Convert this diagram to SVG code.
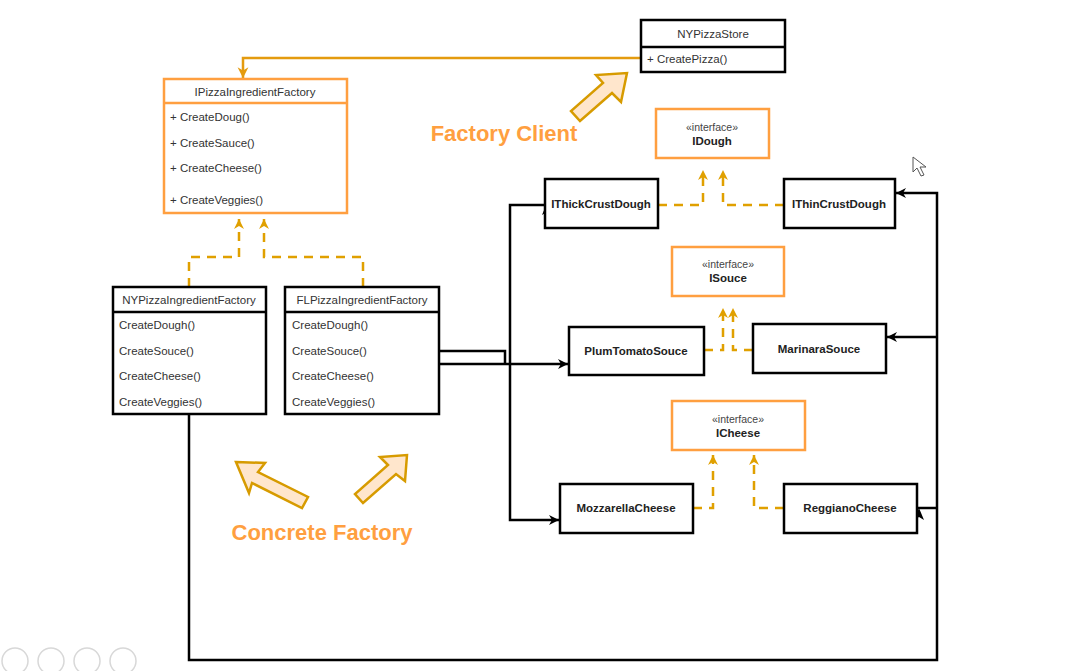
<svg xmlns="http://www.w3.org/2000/svg" width="1067" height="671" viewBox="0 0 1067 671">
<style>
.box{fill:#fff;stroke:#000;stroke-width:2.5}
.obox{fill:#fff;stroke:#FF9F40;stroke-width:2.5}
.t{font-family:"Liberation Sans",Arial,sans-serif;font-size:11.5px;fill:#333}
.b{font-family:"Liberation Sans",Arial,sans-serif;font-size:11.5px;font-weight:bold;fill:#222}
.s{font-family:"Liberation Sans",Arial,sans-serif;font-size:10.5px;fill:#444}
.big{font-family:"Liberation Sans",Arial,sans-serif;font-size:22px;font-weight:bold;fill:#FF9F40}
.blk{fill:none;stroke:#000;stroke-width:2.5}
.dash{fill:none;stroke:#E0A000;stroke-width:2.5;stroke-dasharray:9,7}
.gold{fill:none;stroke:#E49B0F;stroke-width:2.5}
.barrow{fill:#FFE6CC;stroke:#D79B00;stroke-width:2.5;stroke-linejoin:miter}
.tool{fill:none;stroke:#d8d8d8;stroke-width:1.5}
</style>
<defs>
<marker id="ab" viewBox="0 0 12 12" refX="11" refY="6" markerWidth="12" markerHeight="12" markerUnits="userSpaceOnUse" orient="auto"><path d="M1,1 L11,6 L1,11 L4,6 z" fill="#000"/></marker>
<marker id="ag" viewBox="0 0 12 12" refX="11" refY="6" markerWidth="12" markerHeight="12" markerUnits="userSpaceOnUse" orient="auto"><path d="M1,1 L11,6 L1,11 L4,6 z" fill="#E0A000"/></marker>
<marker id="ao" viewBox="0 0 12 12" refX="11" refY="6" markerWidth="13" markerHeight="13" markerUnits="userSpaceOnUse" orient="auto"><path d="M1,1 L11,6 L1,11 L4,6 z" fill="#E49B0F"/></marker>
</defs>

<g id="connectors">
<path class="gold" d="M641,58 H243 V78" marker-end="url(#ao)"/>
<path class="dash" d="M189,287 V257 H239 V219" marker-end="url(#ag)"/>
<path class="dash" d="M363,287 V257 H264 V219" marker-end="url(#ag)"/>
<path class="dash" d="M658,205 H703 V170" marker-end="url(#ag)"/>
<path class="dash" d="M784,205 H723 V170" marker-end="url(#ag)"/>
<path class="dash" d="M704,350 H723 V308" marker-end="url(#ag)"/>
<path class="dash" d="M753,350 H733 V308" marker-end="url(#ag)"/>
<path class="dash" d="M693,508 H713 V455" marker-end="url(#ag)"/>
<path class="dash" d="M784,508 H754 V455" marker-end="url(#ag)"/>
<path class="blk" d="M439,351 H505 V364"/>
<path class="blk" d="M439,364 H568" marker-end="url(#ab)"/>
<path class="blk" d="M545,205 H510 V520 H559" marker-end="url(#ab)"/>
<polygon points="547,203 552,215 547,212 542,215" fill="#000"/>
<path class="blk" d="M189,414 V660 H937 V193 H896" marker-end="url(#ab)"/>
<path class="blk" d="M937,337 H887" marker-end="url(#ab)"/>
<path class="blk" d="M917,508 H937"/>
<polygon points="919,508 924,520 919,517 914,520" fill="#000"/>
</g>

<g id="NYPizzaStore">
<rect class="box" x="641" y="20" width="144" height="52"/>
<line x1="641" y1="47" x2="785" y2="47" stroke="#000" stroke-width="2.5"/>
<text class="t" x="713" y="38" text-anchor="middle">NYPizzaStore</text>
<text class="t" x="647" y="63">+ CreatePizza()</text>
</g>

<g id="IPizzaIngredientFactory">
<rect class="obox" x="164" y="79" width="183" height="134"/>
<line x1="164" y1="103" x2="347" y2="103" stroke="#FF9F40" stroke-width="2.5"/>
<text class="t" x="255" y="96" text-anchor="middle">IPizzaIngredientFactory</text>
<text class="t" x="170" y="121">+ CreateDoug()</text>
<text class="t" x="170" y="147">+ CreateSauce()</text>
<text class="t" x="170" y="172">+ CreateCheese()</text>
<text class="t" x="170" y="204">+ CreateVeggies()</text>
</g>

<g id="NYPizzaIngredientFactory">
<rect class="box" x="113" y="287" width="153" height="127"/>
<line x1="113" y1="312" x2="266" y2="312" stroke="#000" stroke-width="2.5"/>
<text class="t" x="189" y="304" text-anchor="middle">NYPizzaIngredientFactory</text>
<text class="t" x="119" y="329">CreateDough()</text>
<text class="t" x="119" y="355">CreateSouce()</text>
<text class="t" x="119" y="380">CreateCheese()</text>
<text class="t" x="119" y="406">CreateVeggies()</text>
</g>

<g id="FLPizzaIngredientFactory">
<rect class="box" x="285" y="287" width="154" height="127"/>
<line x1="285" y1="312" x2="439" y2="312" stroke="#000" stroke-width="2.5"/>
<text class="t" x="362" y="304" text-anchor="middle">FLPizzaIngredientFactory</text>
<text class="t" x="292" y="329">CreateDough()</text>
<text class="t" x="292" y="355">CreateSouce()</text>
<text class="t" x="292" y="380">CreateCheese()</text>
<text class="t" x="292" y="406">CreateVeggies()</text>
</g>

<g id="IDough">
<rect class="obox" x="656" y="109" width="113" height="49"/>
<text class="s" x="712" y="131" text-anchor="middle">«interface»</text>
<text class="b" x="712" y="145" text-anchor="middle">IDough</text>
</g>

<g id="IThickCrustDough">
<rect class="box" x="545" y="179" width="113" height="49"/>
<text class="b" x="601" y="208" text-anchor="middle">IThickCrustDough</text>
</g>

<g id="IThinCrustDough">
<rect class="box" x="784" y="179" width="111" height="49"/>
<text class="b" x="839" y="208" text-anchor="middle">IThinCrustDough</text>
</g>

<g id="ISouce">
<rect class="obox" x="672" y="247" width="112" height="49"/>
<text class="s" x="728" y="268" text-anchor="middle">«interface»</text>
<text class="b" x="728" y="282" text-anchor="middle">ISouce</text>
</g>

<g id="PlumTomatoSouce">
<rect class="box" x="569" y="327" width="135" height="48"/>
<text class="b" x="636" y="355" text-anchor="middle">PlumTomatoSouce</text>
</g>

<g id="MarinaraSouce">
<rect class="box" x="753" y="324" width="133" height="49"/>
<text class="b" x="819" y="353" text-anchor="middle">MarinaraSouce</text>
</g>

<g id="ICheese">
<rect class="obox" x="672" y="401" width="133" height="49"/>
<text class="s" x="738" y="423" text-anchor="middle">«interface»</text>
<text class="b" x="738" y="437" text-anchor="middle">ICheese</text>
</g>

<g id="MozzarellaCheese">
<rect class="box" x="560" y="484" width="133" height="49"/>
<text class="b" x="626" y="512" text-anchor="middle">MozzarellaCheese</text>
</g>

<g id="ReggianoCheese">
<rect class="box" x="784" y="484" width="133" height="49"/>
<text class="b" x="850" y="512" text-anchor="middle">ReggianoCheese</text>
</g>

<g id="FactoryClientLabel">
<polygon class="barrow" points="627,73 621,102 612,93 580,121 571,111 603,83 596,75"/>
<text class="big" x="504" y="141" text-anchor="middle">Factory Client</text>
</g>

<g id="ConcreteFactoryLabel">
<polygon class="barrow" points="236,462 265,463 258,472 308,497 302,508 252,483 249,493"/>
<polygon class="barrow" points="407,455 405,481 396,474 363,503 355,494 388,465 380,457"/>
<text class="big" x="322" y="540" text-anchor="middle">Concrete Factory</text>
</g>

<g id="screen-overlay">
<path d="M913,157 V172 L917,168 L921,176 L924,175 L920,167 L926,167 Z" fill="#fff" stroke="#555" stroke-width="1"/>
<circle class="tool" cx="15" cy="661" r="13"/>
<circle class="tool" cx="51" cy="661" r="13"/>
<circle class="tool" cx="87" cy="661" r="13"/>
<circle class="tool" cx="123" cy="661" r="13"/>
</g>
</svg>
